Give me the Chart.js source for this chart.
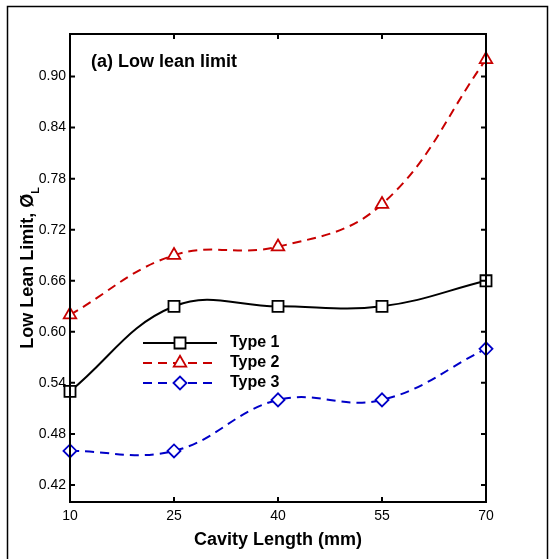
<!DOCTYPE html>
<html>
<head>
<meta charset="utf-8">
<script src="https://cdn.jsdelivr.net/npm/chart.js@4/dist/chart.umd.min.js"></script>
<style>
body { margin: 0; background: #fff; }
</style>
</head>
<body>
<canvas id="myChart" width="554" height="559"></canvas>
<script>
// cavity length (mm) and the low lean limit read for each type
const cavityLength = [10, 25, 40, 55, 70];
const type1 = [0.53, 0.63, 0.63, 0.63, 0.66];
const type2 = [0.62, 0.69, 0.70, 0.75, 0.92];
const type3 = [0.46, 0.46, 0.52, 0.52, 0.58];
const yTicks = [0.42, 0.48, 0.54, 0.60, 0.66, 0.72, 0.78, 0.84, 0.90];
const seriesNames = ['Type 1', 'Type 2', 'Type 3'];

const FONT = 'Arial, "Liberation Sans", sans-serif';

function toPoints(ys) {
    return cavityLength.map((x, i) => ({ x: x, y: ys[i] }));
}

function markerFor(ds) {
    return {
        pointStyle: ds.pointStyle,
        radius: ds.pointRadius,
        rotation: 0,
        borderWidth: ds.pointBorderWidth
    };
}

// box, inward ticks, titles and the legend inside the plot
const decor = {
    id: 'decor',
    afterDraw(chart) {
        const ctx = chart.ctx;
        const a = chart.chartArea;
        const xs = chart.scales.x, ys = chart.scales.y;
        ctx.save();

        // outer frame
        ctx.strokeStyle = '#000';
        ctx.lineWidth = 1.5;
        ctx.strokeRect(7.5, 6.5, 540, 560);

        // axes box
        ctx.lineWidth = 2;
        ctx.strokeRect(a.left, a.top, a.right - a.left, a.bottom - a.top);

        // tick marks pointing inward
        ctx.lineWidth = 2;
        const tl = 5;
        ctx.beginPath();
        cavityLength.forEach(v => {
            const px = xs.getPixelForValue(v);
            ctx.moveTo(px, a.bottom); ctx.lineTo(px, a.bottom - tl);
            ctx.moveTo(px, a.top); ctx.lineTo(px, a.top + tl);
        });
        yTicks.forEach(v => {
            const py = ys.getPixelForValue(v);
            ctx.moveTo(a.left, py); ctx.lineTo(a.left + tl, py);
            ctx.moveTo(a.right, py); ctx.lineTo(a.right - tl, py);
        });
        ctx.stroke();

        ctx.fillStyle = '#000';
        // panel title
        ctx.font = 'bold 18px ' + FONT;
        ctx.textAlign = 'left';
        ctx.textBaseline = 'middle';
        ctx.fillText('(a) Low lean limit', 91, 62);

        // x axis title
        ctx.textAlign = 'center';
        ctx.fillText('Cavity Length (mm)', (a.left + a.right) / 2, 540);

        // y axis title with subscript
        const main = 'Low Lean Limit, Ø';
        ctx.font = 'bold 18px ' + FONT;
        const wMain = ctx.measureText(main).width;
        ctx.font = 'bold 11px ' + FONT;
        const wSub = ctx.measureText('L').width;
        ctx.save();
        ctx.translate(28, (a.top + a.bottom) / 2);
        ctx.rotate(-Math.PI / 2);
        ctx.textAlign = 'left';
        ctx.font = 'bold 18px ' + FONT;
        const start = -(wMain + wSub) / 2;
        ctx.fillText(main, start, 0);
        ctx.font = 'bold 11px ' + FONT;
        ctx.fillText('L', start + wMain, 8);
        ctx.restore();

        // legend
        chart.data.datasets.forEach((ds, i) => {
            const y = 343 + 20 * i;
            ctx.save();
            ctx.strokeStyle = ds.borderColor;
            ctx.lineWidth = ds.borderWidth;
            ctx.setLineDash(ds.borderDash || []);
            ctx.beginPath();
            ctx.moveTo(143, y);
            ctx.lineTo(217, y);
            ctx.stroke();
            ctx.setLineDash([]);
            ctx.fillStyle = ds.pointBackgroundColor;
            ctx.strokeStyle = ds.pointBorderColor;
            ctx.lineWidth = ds.pointBorderWidth;
            Chart.helpers.drawPoint(ctx, markerFor(ds), 180, y);
            ctx.restore();
            ctx.font = 'bold 16px ' + FONT;
            ctx.textAlign = 'left';
            ctx.fillStyle = '#000';
            ctx.fillText(seriesNames[i], 230, y);
        });

        ctx.restore();
    }
};

function makeSet(name, ys, color, dash, style, r) {
    return {
        label: name,
        data: toPoints(ys),
        borderColor: color,
        borderWidth: 2,
        borderDash: dash,
        tension: 0.4,
        pointStyle: style,
        pointRadius: r,
        pointBorderWidth: 1.8,
        pointBorderColor: color,
        pointBackgroundColor: '#fff',
        clip: false
    };
}

let ctx = document.getElementById('myChart').getContext('2d');
let myChart = new Chart(ctx, {
    type: 'line',
    data: {
        datasets: [
            makeSet(seriesNames[0], type1, '#000000', [], 'rect', 7.8),
            makeSet(seriesNames[1], type2, '#c80000', [9, 6], 'triangle', 7.2),
            makeSet(seriesNames[2], type3, '#0000c8', [9, 6], 'rectRot', 6.5)
        ]
    },
    options: {
        responsive: false,
        animation: false,
        layout: { padding: { top: 34, right: 68, left: 0, bottom: 0 } },
        plugins: {
            legend: { display: false },
            tooltip: { enabled: false }
        },
        scales: {
            x: {
                type: 'linear',
                min: 10,
                max: 70,
                afterBuildTicks: (s) => { s.ticks = cavityLength.map(v => ({ value: v })); },
                afterFit: (s) => { s.height = 57; },
                grid: { display: false, drawTicks: false },
                border: { display: false },
                ticks: { color: '#000', padding: 6, font: { family: FONT, size: 14 } }
            },
            y: {
                min: 0.40,
                max: 0.95,
                afterBuildTicks: (s) => { s.ticks = yTicks.map(v => ({ value: v })); },
                afterFit: (s) => { s.width = 70; },
                grid: { display: false, drawTicks: false },
                border: { display: false },
                ticks: {
                    color: '#000',
                    padding: 4,
                    font: { family: FONT, size: 14 },
                    callback: (v) => v.toFixed(2)
                }
            }
        }
    },
    plugins: [decor]
});
</script>
</body>
</html>
